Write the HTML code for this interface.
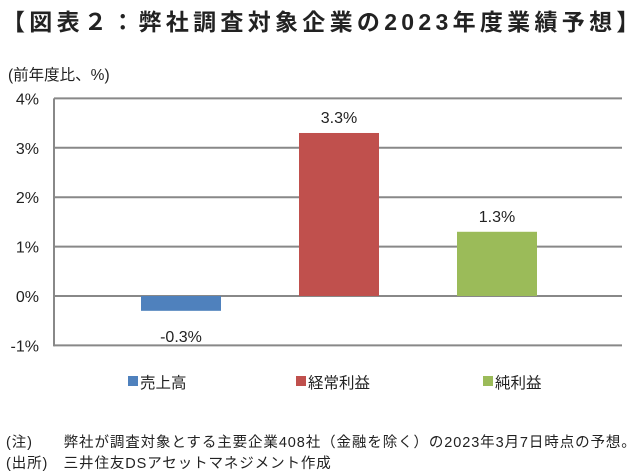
<!DOCTYPE html>
<html><head><meta charset="utf-8"><style>
body{margin:0;width:640px;height:475px;background:#fff;overflow:hidden;font-family:"Liberation Sans","Noto Sans CJK JP",sans-serif;color:#222}
.t{position:absolute;white-space:nowrap}
</style></head><body>
<div class="t" style="left:2px;top:3px;font-size:23px;font-weight:bold;letter-spacing:4.3px">【図表２：弊社調査対象企業の2023年度業績予想】</div>
<div class="t" style="left:8px;top:63px;font-size:15.5px">(前年度比、%)</div>
<svg id="c" width="640" height="475" style="position:absolute;left:0;top:0"></svg>
<div class="t" style="left:6px;top:431px;font-size:14.5px;letter-spacing:0.9px">(注)　　弊社が調査対象とする主要企業408社（金融を除く）の2023年3月7日時点の予想。</div>
<div class="t" style="left:6px;top:452px;font-size:14.5px;letter-spacing:0.9px">(出所)　三井住友DSアセットマネジメント作成</div>
<script>
const categories=["売上高","経常利益","純利益"];
const values=[-0.3,3.3,1.3];
const labels=["-0.3%","3.3%","1.3%"];
const ticks=[-1,0,1,2,3,4];
const colors=["#4f81bd","#c0504d","#9bbb59"];
const svg=document.getElementById('c');const NS="http://www.w3.org/2000/svg";
function y(v){return 296-v*49.4;}
function x(i){return 102+i*158;}
function mk(t,a){const e=document.createElementNS(NS,t);for(const k in a)e.setAttribute(k,a[k]);svg.appendChild(e);return e;}
ticks.forEach(v=>{
 const l=mk('line',{x1:54,x2:622,y1:y(v),y2:y(v),stroke:'#888','stroke-width':2});
 
 
 const t=mk('text',{x:39,y:y(v)+6,'text-anchor':'end','font-size':16,fill:'#222'});
 t.textContent=v+'%';
 
 
});
const ax=mk('line',{x1:54,x2:54,y1:y(4),y2:y(-1)+1,stroke:'#888','stroke-width':2});


values.forEach((v,i)=>{
 const cx=x(i)+79;
 const r=mk('rect',{x:cx-40,y:Math.min(y(v),y(0)),width:80,height:Math.abs(y(v)-y(0)),fill:colors[i]});
 
 
 const ly=v>=0?y(v)-10:y(v)+31;
 const t=mk('text',{x:cx,y:ly,'text-anchor':'middle','font-size':16,fill:'#222'});
 t.textContent=labels[i];
 
 
 const lx=[128,296,483][i];
 const s=mk('rect',{x:lx,y:376,width:10,height:10,fill:colors[i]});
 
 
 const lt=mk('text',{x:lx+12,y:388,'font-size':15.5,fill:'#222'});
 lt.textContent=categories[i];
 
 
});
</script>
</body></html>
